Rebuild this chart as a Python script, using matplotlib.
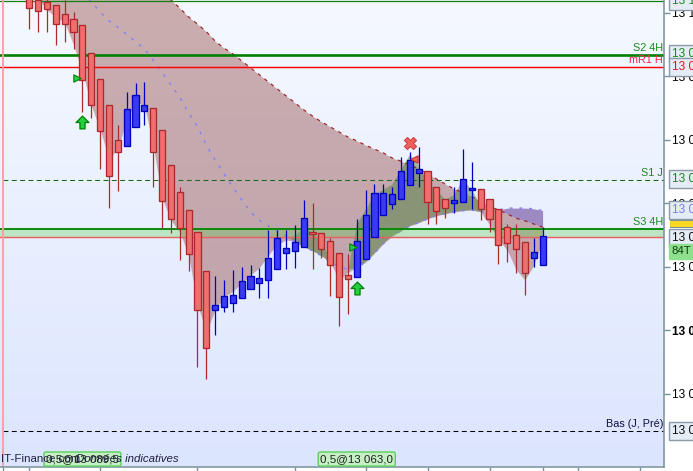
import numpy as np
import matplotlib
matplotlib.use("Agg")
import matplotlib.pyplot as plt
from matplotlib.path import Path
from matplotlib.transforms import blended_transform_factory
from matplotlib.patches import Rectangle

plt.rcParams['font.family'] = ['Liberation Sans', 'DejaVu Sans']

BASE = 13050.0
highs = [55.1,53.9,52.3,51.2,52.0,50.1,48.0,43.6,39.5,35.4,32.3,37.5,38.9,39.1,35.0,31.5,26.0,22.5,18.9,15.4,9.3,8.5,7.9,9.5,9.9,10.2,9.8,15.8,15.8,15.8,16.5,20.5,20.0,15.3,14.5,12.1,12.0,17.5,22.0,23.0,23.0,22.5,27.3,28.0,28.8,25.0,22.5,20.6,22.5,28.5,26.5,22.2,20.6,19.1,16.7,16.7,13.9,14.5,16.2]
lows = [47.4,47.0,47.0,44.9,45.4,44.3,34.3,33.4,25.4,19.2,21.9,29.0,32.0,32.3,22.5,16.1,15.3,11.0,9.3,-5.8,-7.7,-0.8,2.8,2.8,5.0,6.5,5.0,5.0,9.6,9.6,9.8,13.1,9.6,11.3,5.4,0.6,2.5,8.4,11.2,14.6,18.1,19.1,20.6,22.8,22.5,16.7,16.7,17.6,18.4,20.2,19.1,17.3,15.4,10.4,10.7,9.0,5.5,9.9,10.2]
opens = [53.9,52.0,51.7,51.2,49.8,49.0,48.0,43.6,39.5,35.4,29.9,29.0,32.0,34.5,35.0,31.5,26.0,21.7,18.9,15.4,9.3,3.2,3.6,4.3,5.0,6.5,7.4,7.9,9.6,12.1,12.4,13.1,15.4,15.3,14.0,12.1,8.7,8.4,11.2,14.6,18.1,19.8,20.6,22.8,24.7,25.0,22.5,20.6,20.0,20.2,22.1,22.2,20.6,19.1,16.2,15.0,13.9,11.4,10.2]
closes = [50.7,50.2,50.6,48.2,48.2,47.0,39.4,35.4,31.4,24.3,28.0,34.8,37.0,35.4,28.0,20.3,17.5,16.1,12.0,3.2,-2.8,3.9,5.4,5.5,7.7,8.5,8.2,11.3,14.5,12.9,13.9,17.6,15.1,12.8,10.2,5.2,8.0,14.0,18.1,21.6,21.6,21.4,25.0,26.8,25.4,20.2,18.7,19.2,20.5,23.8,22.4,19.1,17.5,13.4,13.7,12.8,9.0,12.3,14.8]

nan = float('nan')
red_band = [57.0]*13 + [55.8,54.5,53.2,52.0,50.7,49.3,48.2,47.0,45.5,44.4,43.5,42.4,41.3,40.2,39.1,38.0,36.9,35.8,34.7,33.7,32.8,32.0,31.2,30.4,29.8,29.1,28.5,27.9,27.1,26.6,26.0,25.4,24.6,23.8,23.0,22.2,21.6,21.0,20.3,19.5,18.9,18.3,17.6,17.2,16.7,16.2]
blue_band = [nan]*6 + [53.2,51.7,50.1,48.7,47.7,46.6,45.4,44.3,42.5,40.6,38.6,36.7,34.2,32.1,29.1,26.8,24.6,22.5,20.5,18.6,17.3,16.4,15.6,14.8,13.9,13.1,12.5,11.7,10.7,10.1,9.5,9.8,10.7,12.1,13.6,14.8,15.6,16.4,16.9,17.5,18.0,18.3,18.6,18.8,18.9,18.6,18.6,18.9,19.2,19.2,19.2,19.1,18.8]
low_band = [nan,52.3,50.4,49.3,48.4,44.9,40.6,35.4,31.5,27.1,28.4,33.1,35.9,35.4,29.1,20.8,17.3,15.4,11.8,4.0,-0.3,3.2,5.2,6.1,7.4,8.7,9.8,11.8,13.4,14.2,14.8,16.1,15.4,13.7,11.4,7.9,9.1,16.6,18.9,21.3,22.1,22.9,25.2,27.6,26.0,23.2,22.1,20.5,21.3,23.6,22.1,19.7,16.6,14.2,12.6,9.5,7.9,10.2,14.2]

level_top = 51.8
level_s2 = 43.35
level_mr1 = 41.5
level_s1 = 23.7
level_s3 = 15.9
level_s3b = 14.7
level_bas = -15.9
ticks_price = [13100,13090,13080,13070,13060,13050,13040]
tick_labels = ["13 100","13 090","13 080","13 070","13 060","13 050","13 040"]
time_ticks = [-3,0,8,19,30,38,45,52,58,62,69]

idx = np.arange(len(opens))
H = BASE + np.array(highs); Lo = BASE + np.array(lows)
O = BASE + np.array(opens); C = BASE + np.array(closes)
R = BASE + np.array(red_band); B = BASE + np.array(blue_band); L = BASE + np.array(low_band)

W, HT = 693, 471
fig = plt.figure(figsize=(W/100, HT/100), dpi=100, facecolor='white')
ax = fig.add_axes([0, 4/HT, 664/W, 467/HT])

grad = np.linspace(0, 1, 256).reshape(-1, 1, 1)
top = np.array([245, 249, 255])/255; bot = np.array([220, 229, 254])/255
ax.imshow(top + (bot-top)*grad, extent=[0, 1, 0, 1], transform=ax.transAxes,
          aspect='auto', zorder=0)
ax.set_xlim((0-29.3)/8.85, (664-29.3)/8.85)
ax.set_ylim(BASE-21.57, BASE+51.98)

# cloud
low_edge = np.fmin(L, B)
ax.fill_between(idx, low_edge, R, where=R > low_edge, interpolate=True,
                color='#8c3c37', alpha=.4, lw=0, zorder=1)
mask = ~np.isnan(B) & ~np.isnan(L)
ax.fill_between(idx[mask], B[mask], L[mask], where=L[mask] > B[mask], interpolate=True,
                color='#508241', alpha=.5, lw=0, zorder=1.1)
ax.fill_between(idx[mask], R[mask], B[mask], where=B[mask] > R[mask], interpolate=True,
                color='#8468b0', alpha=.75, lw=0, zorder=1.2)
ax.plot(idx, R, color='#a02020', lw=.85, ls=(0, (3, 4)), zorder=1.5)
ax.plot(idx, B, color='#8080f8', lw=1, ls=(0, (2, 5)), zorder=1.5)

# levels
ax.axhspan(BASE+level_s3b, BASE+level_s3, color='#5dd249', alpha=.32, lw=0, zorder=2)
ax.axhline(BASE+level_top, color='#108010', lw=.9, zorder=2)
ax.axhline(BASE+level_s2, color='#008000', lw=1.9, zorder=2)
ax.axhline(BASE+level_mr1, color='#ff0000', lw=1.05, zorder=2)
ax.axhline(BASE+level_s3, color='#0a8a0a', lw=1.4, zorder=2)
ax.axhline(BASE+level_s3b, color='#e86060', lw=1.05, zorder=2)
ax.plot([-3.0, 72], [BASE+level_s1]*2, color='#186818', lw=.75, ls=(0, (4.7, 3.3)), zorder=2)
ax.plot([-3.0, 72], [BASE+level_bas]*2, color='#000000', lw=.75, ls=(0, (4.7, 3.3)), zorder=2)
ax.axvline(-3, color='#ff9aa0', lw=1.3, zorder=2)

# candles
up = C >= O
red_e, blue_e = '#ac2a2e', '#0000c0'
for mask_c, fc, ec in ((~up, '#f06e6e', red_e), (up, '#3a3af2', blue_e)):
    ax.vlines(idx[mask_c], Lo[mask_c], H[mask_c], color=ec, lw=.9, zorder=3)
    ax.bar(idx[mask_c], np.abs(C-O)[mask_c], bottom=np.minimum(O, C)[mask_c], width=.7,
           facecolor=fc, edgecolor=ec, lw=.95, zorder=4)

# markers
arrow = Path([(-.2,-.5),(.2,-.5),(.2,0),(.5,0),(0,.5),(-.5,0),(-.2,0),(-.2,-.5)], closed=True)
ax.scatter([6, 37], [BASE+32.8, BASE+6.6], marker=arrow, s=85, facecolor='#22d040',
           edgecolor='#008000', lw=.9, zorder=6)
ax.scatter([5.4, 36.6], [BASE+39.7, BASE+13.1], marker='>', s=28, facecolor='#28d048',
           edgecolor='#008000', lw=.8, zorder=6)
ax.scatter([43.5], [BASE+26.9], marker='<', s=28, facecolor='#f06060', edgecolor='#c03030',
           lw=.8, zorder=6)
ax.scatter([43], [BASE+29.5], marker='X', s=75, facecolor='#f06060', edgecolor='#d04040',
           lw=.8, zorder=6)

# axes
for s in ('left', 'top'):
    ax.spines[s].set_visible(False)
for s in ('right', 'bottom'):
    ax.spines[s].set_color('#78909c'); ax.spines[s].set_linewidth(1.1)
ax.yaxis.tick_right()
ax.set_yticks(ticks_price, tick_labels, fontsize=8.6, color='black')
ax.tick_params(axis='y', length=4, width=1, color='#78909c', pad=1.5)
ax.get_yticklabels()[5].set_fontweight('bold')
ax.set_xticks(time_ticks, [])
ax.tick_params(axis='x', length=3, width=1, color='#78909c')

# level captions
caps = [("S2 4H", level_s2, '#1a8a1a'), ("mR1 H", level_mr1, '#ff2050'), ("S1 J", level_s1, '#1a8a1a'),
        ("S3 4H", level_s3, '#1a8a1a'), ("Bas (J, Pré)", level_bas, '#101040')]
for t, v, c in caps:
    ax.text(0.9985, BASE+v+.25, t, transform=blended_transform_factory(ax.transAxes, ax.transData),
            ha='right', va='bottom', fontsize=7.8, color=c, zorder=7)

# price boxes
tr = blended_transform_factory(ax.transAxes, ax.transData)
boxes = [("13 101", level_top, '#1a8a1a', '#e4ecf6'), ("13 093", level_s2+.1, '#1a8a1a', '#e4ecf6'),
         ("13 091", level_mr1-.1, '#f01020', '#e4ecf6'), ("13 073", level_s1+.1, '#1a8a1a', '#e4ecf6'),
         ("13 067", 18.9, '#7c7cf0', '#e4ecf6'), ("13 064", level_s3b-.2, '#101010', '#e4ecf6'),
         ("13 034", level_bas, '#101010', '#e4ecf6')]
ax.add_patch(Rectangle((1.0085, BASE+16.0), .05, 1.6, transform=tr, clip_on=False, fc='#78909c', lw=0, zorder=8))
ax.add_patch(Rectangle((1.0085, BASE+16.3), .05, .8, transform=tr, clip_on=False, fc='#f8d820', lw=0, zorder=9))
for t, v, c, fc in boxes:
    ax.text(1.0125, BASE+v, t, transform=tr, ha='left', va='center', fontsize=8.6, color=c, clip_on=False,
            bbox=dict(boxstyle='square,pad=0.24', fc=fc, ec='#8a9aa8', lw=1), zorder=10)
ax.text(1.0115, BASE+12.4, "84T", transform=tr, ha='left', va='center', fontsize=8.2, color='#104010',
        clip_on=False, bbox=dict(boxstyle='square,pad=0.2', fc='#8ee08e', ec='#8ee08e', lw=1), zorder=10)

# footer
trf = blended_transform_factory(ax.transData, ax.transAxes)
ax.text(6, .017, "0,5@13 089,5", transform=trf, ha='center', va='center', fontsize=8.25, color='#202020',
        bbox=dict(boxstyle='round,pad=0.18', fc='#c4f0c4', ec='#58d058', lw=1), zorder=8)
ax.text(37, .017, "0,5@13 063,0", transform=trf, ha='center', va='center', fontsize=8.25, color='#202020',
        bbox=dict(boxstyle='round,pad=0.18', fc='#c4f0c4', ec='#58d058', lw=1), zorder=8)
ax.text(1/664, .006, "IT-Finance.com", transform=ax.transAxes, ha='left', va='bottom', fontsize=8.25,
        color='#202040', zorder=9)
ax.text(179/664, .006, "Données indicatives", transform=ax.transAxes, ha='right', va='bottom', fontsize=8.25,
        style='italic', color='#202040', zorder=9)

fig.savefig('out.png', dpi=100)
